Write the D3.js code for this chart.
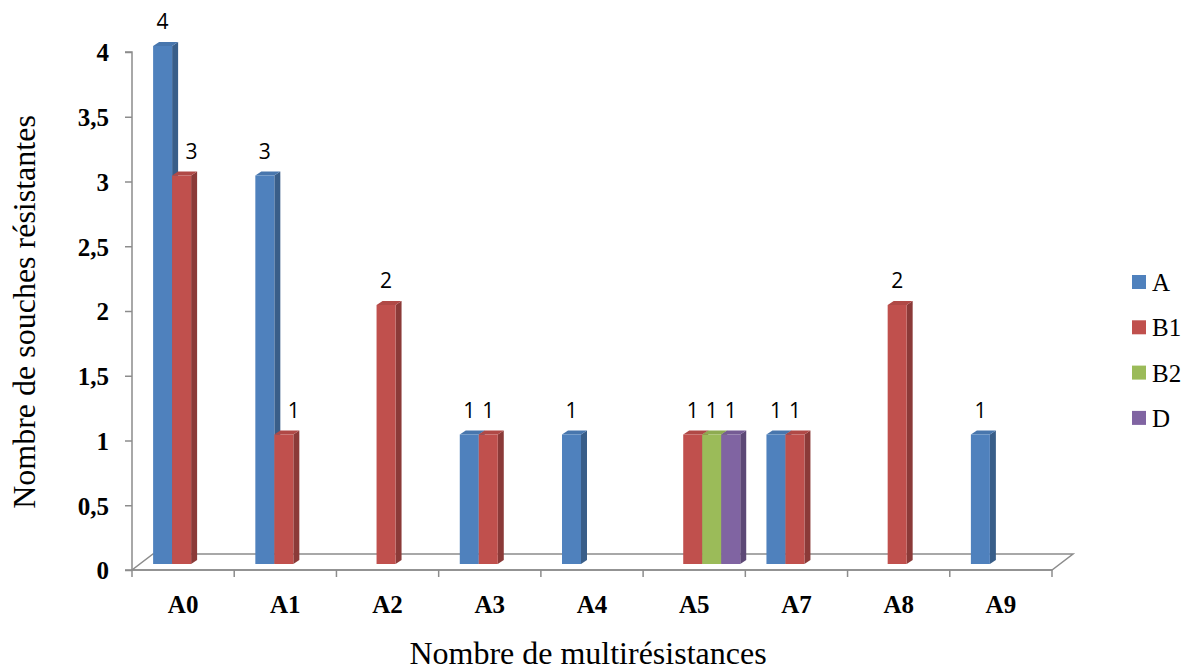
<!DOCTYPE html>
<html>
<head>
<meta charset="utf-8">
<script src="https://cdn.jsdelivr.net/npm/d3@7/dist/d3.min.js"></script>
<style>
  html, body { margin: 0; padding: 0; background: #fff; }
  svg { display: block; }
</style>
</head>
<body>
<svg id="chart" width="1191" height="672"></svg>
<script>
// Categories and series
const categories = ["A0", "A1", "A2", "A3", "A4", "A5", "A7", "A8", "A9"];
const seriesNames = ["A", "B1", "B2", "D"];
const seriesColors = ["#4F81BD", "#C0504D", "#9BBB59", "#8064A2"];
// values per series, aligned with categories (null = no bar)
const valuesA  = [4, 3, null, 1, 1, null, 1, null, 1];
const valuesB1 = [3, 1, 2, 1, null, 1, 1, 2, null];
const valuesB2 = [null, null, null, null, null, 1, null, null, null];
const valuesD  = [null, null, null, null, null, 1, null, null, null];
const seriesValues = [valuesA, valuesB1, valuesB2, valuesD];
const yTicks = [0, 0.5, 1, 1.5, 2, 2.5, 3, 3.5, 4];
const yTickLabels = ["0", "0,5", "1", "1,5", "2", "2,5", "3", "3,5", "4"];
const yTitle = "Nombre de souches résistantes";
const xTitle = "Nombre de multirésistances";

(function draw() {
  const svg = d3.select("#chart");
  const W = 1191, H = 672;
  svg.append("rect").attr("width", W).attr("height", H).attr("fill", "#fff");

  // Plot frame
  const plotLeft = 132, plotRight = 1052, plotBottom = 570, plotTop = 52;
  const depthX = 21, depthY = -16;     // floor depth
  const barShiftX = 8, barShiftY = -6; // bar placed inside the floor depth
  const barDX = 6, barDY = -4;         // bar thickness

  const x = d3.scaleBand().domain(categories).range([plotLeft, plotRight]).paddingInner(0).paddingOuter(0);
  const slot = d3.scaleBand().domain(seriesNames).range([0, x.bandwidth()]).paddingInner(0).paddingOuter(0.69);
  const y = d3.scaleLinear().domain([0, 4]).range([plotBottom, plotTop]);

  const axisColor = "#8c8c8c";
  const serif = "'Liberation Serif', 'Times New Roman', serif";

  // Floor
  svg.append("path")
    .attr("d", `M${plotLeft},${plotBottom} L${plotRight},${plotBottom} L${plotRight + depthX},${plotBottom + depthY} L${plotLeft + depthX},${plotBottom + depthY} Z`)
    .attr("fill", "#fff").attr("stroke", axisColor).attr("stroke-width", 1.5);

  // Y axis
  const yAxis = d3.axisLeft(y).tickValues(yTicks).tickSize(7).tickFormat((d, i) => yTickLabels[i]);
  const gy = svg.append("g").attr("transform", `translate(${plotLeft},0)`).call(yAxis);
  gy.select(".domain").attr("stroke", axisColor).attr("stroke-width", 1.5).attr("d", `M-7,${plotTop}H0V${plotBottom}H-7`);
  gy.selectAll(".tick line").attr("stroke", axisColor).attr("stroke-width", 1.5);
  gy.selectAll(".tick text")
    .attr("x", -23)
    .attr("dy", "0.35em")
    .attr("font-family", serif)
    .attr("font-weight", "bold")
    .attr("font-size", 25)
    .attr("fill", "#000");

  // X axis (category boundaries as ticks)
  const gx = svg.append("g").attr("transform", `translate(0,${plotBottom})`);
  gx.append("line").attr("x1", plotLeft).attr("x2", plotRight).attr("y1", 0).attr("y2", 0)
    .attr("stroke", axisColor).attr("stroke-width", 1.5);
  const boundaries = categories.map(c => x(c)).concat([plotRight]);
  gx.selectAll("line.tk").data(boundaries).join("line").attr("class", "tk")
    .attr("x1", d => d).attr("x2", d => d).attr("y1", 0).attr("y2", 7)
    .attr("stroke", axisColor).attr("stroke-width", 1.5);
  gx.selectAll("text").data(categories).join("text")
    .attr("x", d => x(d) + x.bandwidth() / 2)
    .attr("y", 43)
    .attr("text-anchor", "middle")
    .attr("font-family", serif)
    .attr("font-weight", "bold")
    .attr("font-size", 25)
    .attr("fill", "#000")
    .text(d => d);

  // Bars (3D-style prisms)
  const bars = [];
  categories.forEach((c, ci) => {
    seriesNames.forEach((s, si) => {
      const v = seriesValues[si][ci];
      if (v == null) return;
      bars.push({ c, ci, s, si, v });
    });
  });

  const barsG = svg.append("g");
  bars.forEach(b => {
    const base = d3.color(seriesColors[b.si]);
    const x0 = x(b.c) + slot(b.s) + barShiftX;
    const w = slot.bandwidth();
    const yb = y(0) + barShiftY;
    const yt = y(b.v) + barShiftY;
    const g = barsG.append("g");
    // side face
    g.append("path")
      .attr("d", `M${x0 + w},${yb} L${x0 + w + barDX},${yb + barDY} L${x0 + w + barDX},${yt + barDY} L${x0 + w},${yt} Z`)
      .attr("fill", base.darker(0.9));
    // top face
    g.append("path")
      .attr("d", `M${x0},${yt} L${x0 + barDX},${yt + barDY} L${x0 + w + barDX},${yt + barDY} L${x0 + w},${yt} Z`)
      .attr("fill", base.darker(0.25));
    // front face
    g.append("rect")
      .attr("x", x0).attr("y", yt).attr("width", w).attr("height", yb - yt)
      .attr("fill", base);
  });

  // Value labels
  svg.append("g").selectAll("text").data(bars).join("text")
    .attr("x", b => {
      const prev = b.si > 0 ? seriesValues[b.si - 1][b.ci] : null;
      const nudge = prev != null && prev > b.v ? 10 : 0;
      return x(b.c) + slot(b.s) + barShiftX + slot.bandwidth() / 2 + nudge;
    })
    .attr("y", b => y(b.v) - 23)
    .attr("text-anchor", "middle")
    .attr("font-family", "'Open Sans', 'Liberation Sans', sans-serif")
    .attr("font-size", 21)
    .attr("fill", "#000")
    .text(b => b.v);

  // Axis titles
  svg.append("text")
    .attr("transform", `translate(35,312) rotate(-90)`)
    .attr("text-anchor", "middle")
    .attr("font-family", serif)
    .attr("font-size", 32)
    .attr("fill", "#000")
    .text(yTitle);

  svg.append("text")
    .attr("x", 588).attr("y", 664)
    .attr("text-anchor", "middle")
    .attr("font-family", serif)
    .attr("font-size", 32)
    .attr("fill", "#000")
    .text(xTitle);

  // Legend
  const legend = svg.append("g").attr("transform", "translate(1132,275)");
  seriesNames.forEach((s, i) => {
    const row = legend.append("g").attr("transform", `translate(0,${i * 45.3})`);
    row.append("rect").attr("width", 14).attr("height", 14).attr("fill", seriesColors[i]);
    row.append("text")
      .attr("x", 20).attr("y", 16)
      .attr("font-family", serif)
      .attr("font-size", 25)
      .attr("fill", "#000")
      .text(s);
  });
})();
</script>
</body>
</html>
